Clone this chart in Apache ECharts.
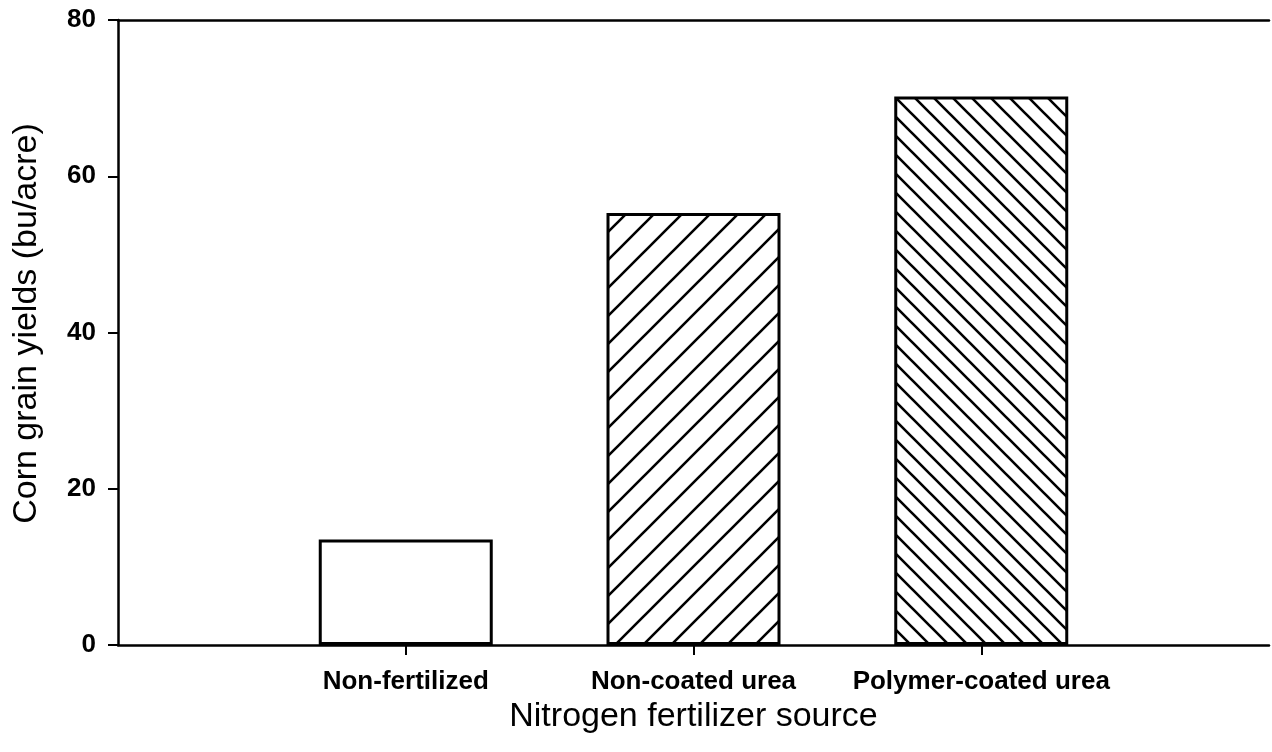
<!DOCTYPE html>
<html>
<head>
<meta charset="utf-8">
<title>Corn grain yields</title>
<script src="https://cdn.jsdelivr.net/npm/echarts@6/dist/echarts.min.js"></script>
<style>
  html, body { margin: 0; padding: 0; background: #fff; }
  #chart { width: 1272px; height: 752px; }
</style>
</head>
<body>
<div id="chart"></div>
<script>
// data
const categories = ["Non-fertilized", "Non-coated urea", "Polymer-coated urea"];
const yields = [13.5, 55.3, 70.2];
const yTicks = [0, 20, 40, 60, 80];

const FONT = "'Liberation Sans', Arial, sans-serif";

// hatch tile: dir 1 = "/", dir -1 = "\"
function hatch(size, dir) {
  const c = document.createElement("canvas");
  c.width = size;
  c.height = size;
  const ctx = c.getContext("2d");
  ctx.fillStyle = "#fff";
  ctx.fillRect(0, 0, size, size);
  ctx.strokeStyle = "#000";
  ctx.lineWidth = 2.6;
  ctx.beginPath();
  if (dir > 0) {
    ctx.moveTo(-2, size + 2); ctx.lineTo(size + 2, -2);
    ctx.moveTo(-2, 2); ctx.lineTo(2, -2);
    ctx.moveTo(size - 2, size + 2); ctx.lineTo(size + 2, size - 2);
  } else {
    ctx.moveTo(-2, -2); ctx.lineTo(size + 2, size + 2);
    ctx.moveTo(-2, size - 2); ctx.lineTo(2, size + 2);
    ctx.moveTo(size - 2, -2); ctx.lineTo(size + 2, 2);
  }
  ctx.stroke();
  return { image: c, repeat: "repeat" };
}

const fills = ["#fff", hatch(28, 1), hatch(19, -1)];

// pad both ends so the bars sit at 1, 2, 3 on a 0..4 axis
const xData = [""].concat(categories, [""]);
const barData = ["-"].concat(
  yields.map((v, i) => ({
    value: v,
    itemStyle: { color: fills[i] }
  })),
  ["-"]
);

const chart = echarts.init(document.getElementById("chart"));
chart.setOption({
  animation: false,
  textStyle: { fontFamily: FONT },
  grid: { left: 118, right: 0, top: 20, bottom: 107 },
  xAxis: [
    {
      type: "category",
      data: xData,
      boundaryGap: false,
      name: "Nitrogen fertilizer source",
      nameLocation: "middle",
      nameGap: 54,
      nameTextStyle: { fontSize: 34, color: "#000", fontFamily: FONT },
      axisLine: { lineStyle: { color: "#000", width: 2.5 } },
      axisTick: {
        length: 10,
        interval: (i, v) => v !== "",
        lineStyle: { color: "#000", width: 2 }
      },
      axisLabel: {
        interval: 0,
        margin: 24,
        fontSize: 26,
        fontWeight: "bold",
        color: "#000",
        fontFamily: FONT
      }
    },
    {
      type: "category",
      data: xData,
      boundaryGap: false,
      position: "top",
      axisLine: { lineStyle: { color: "#000", width: 2.5 } },
      axisTick: { show: false },
      axisLabel: { show: false }
    }
  ],
  yAxis: {
    type: "value",
    min: yTicks[0],
    max: yTicks[yTicks.length - 1],
    interval: yTicks[1] - yTicks[0],
    name: "Corn grain yields (bu/acre)",
    nameLocation: "middle",
    nameGap: 74,
    nameTextStyle: { fontSize: 34, color: "#000", fontFamily: FONT, padding: [0, 0, 0, 18] },
    axisLine: { show: true, lineStyle: { color: "#000", width: 2.5 } },
    axisTick: { show: true, length: 10, lineStyle: { color: "#000", width: 2 } },
    splitLine: { show: false },
    axisLabel: {
      margin: 22,
      fontSize: 26,
      fontWeight: "bold",
      color: "#000",
      fontFamily: FONT
    }
  },
  series: [
    {
      type: "bar",
      data: barData,
      barWidth: 174,
      itemStyle: { borderColor: "#000", borderWidth: 3 }
    }
  ]
});
</script>
</body>
</html>
